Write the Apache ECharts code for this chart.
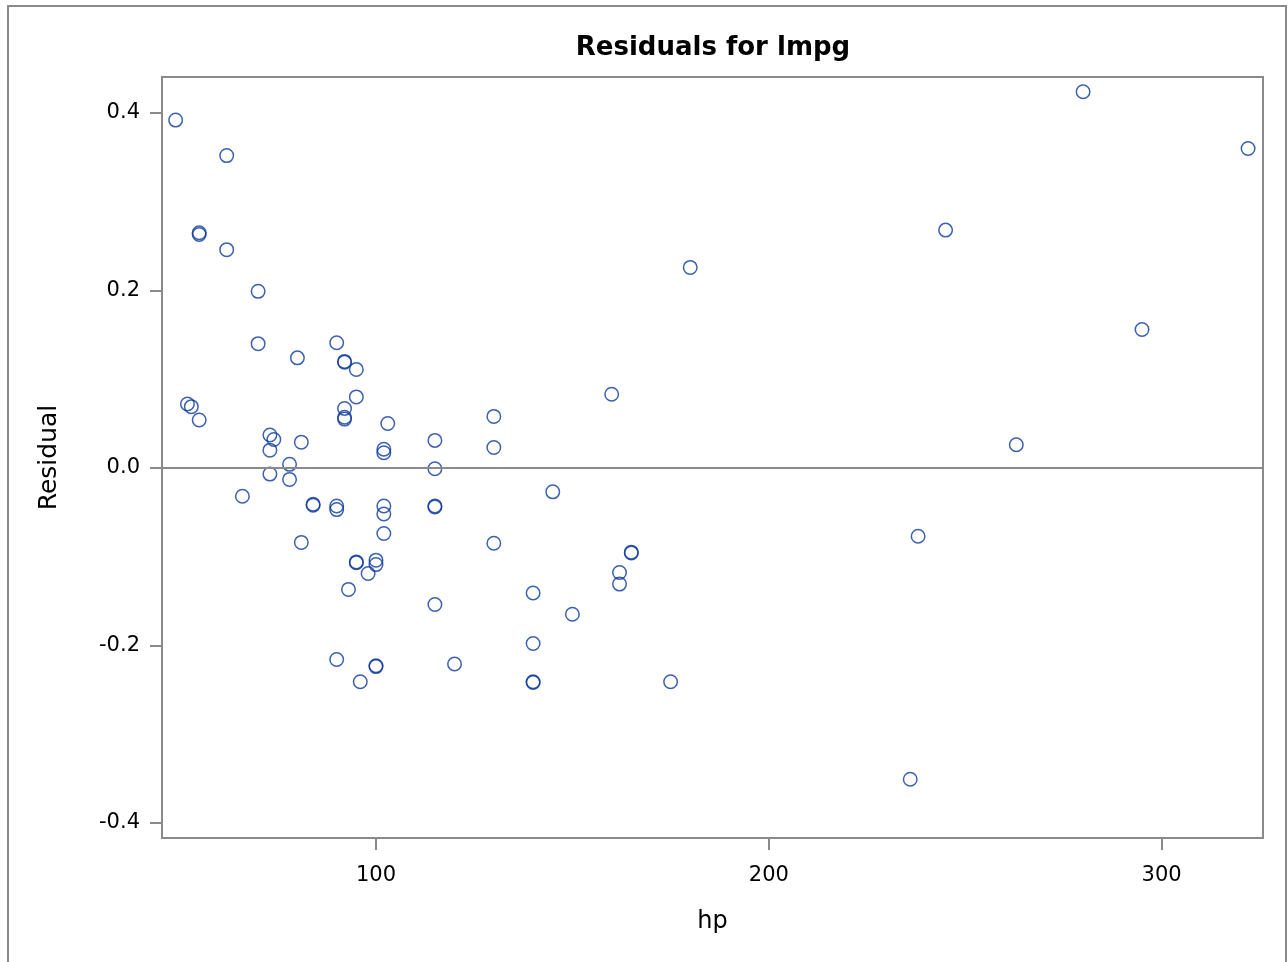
<!DOCTYPE html>
<html>
<head>
<meta charset="utf-8">
<script src="https://cdn.jsdelivr.net/npm/echarts@6/dist/echarts.min.js"></script>
<style>
html,body{margin:0;padding:0;background:#fff;}
#chart{width:1288px;height:962px;}
</style>
</head>
<body>
<div id="chart"></div>
<script>
const titleText = 'Residuals for lmpg';
const xName = 'hp';
const yName = 'Residual';
const xTicks = [100, 200, 300];
const yTicks = [-0.4, -0.2, 0, 0.2, 0.4];
const hp = [49, 62, 55, 55, 62, 70, 70, 90, 80, 92, 92, 95, 95, 92, 92, 92, 103, 52, 53, 55,
  73, 74, 73, 81, 102, 102, 78, 73, 78, 66, 84, 84, 90, 90, 102, 102, 102, 81, 95, 95,
  100, 100, 98, 93, 90, 100, 100, 96, 160, 130, 115, 130, 115, 145, 115, 115, 130, 165, 165, 162,
  162, 140, 150, 115, 140, 120, 140, 140, 175, 180, 245, 238, 236, 263, 280, 295, 322];
const residual = [0.392, 0.352, 0.265, 0.263, 0.246, 0.199, 0.140, 0.141, 0.124, 0.120, 0.119, 0.111, 0.080, 0.067, 0.057, 0.055, 0.050, 0.072, 0.069, 0.054,
  0.037, 0.032, 0.020, 0.029, 0.021, 0.017, 0.004, -0.007, -0.013, -0.032, -0.041, -0.042, -0.043, -0.047, -0.043, -0.052, -0.074, -0.084, -0.106, -0.107,
  -0.104, -0.109, -0.119, -0.137, -0.216, -0.223, -0.224, -0.241, 0.083, 0.058, 0.031, 0.023, -0.001, -0.027, -0.043, -0.044, -0.085, -0.095, -0.096, -0.118,
  -0.131, -0.141, -0.165, -0.154, -0.198, -0.221, -0.241, -0.242, -0.241, 0.226, 0.268, -0.077, -0.351, 0.026, 0.424, 0.156, 0.360];
const refValue = 0;

const pts = hp.map((h, i) => [h, residual[i]]);
const FONT = 'DejaVu Sans';
const GREY = '#8a8a8a';

const chart = echarts.init(document.getElementById('chart'), null, {renderer: 'canvas'});
chart.setOption({
  animation: false,
  backgroundColor: '#fff',
  title: {
    text: titleText,
    left: 708, top: 30, textAlign: 'center',
    textStyle: {fontFamily: FONT, fontWeight: 'bold', fontSize: 26, color: '#000'}
  },
  graphic: [{
    type: 'rect', shape: {x: 8, y: 6, width: 1278, height: 1000},
    style: {fill: 'none', stroke: GREY, lineWidth: 2}, silent: true, z: -1
  }],
  grid: {
    left: 162, right: 25, top: 77, bottom: 124,
    show: true, borderColor: GREY, borderWidth: 2, backgroundColor: 'transparent'
  },
  xAxis: {
    type: 'value', min: 45.53, max: 325.8,
    name: xName, nameLocation: 'middle', nameGap: 72,
    nameTextStyle: {fontFamily: FONT, fontSize: 24, color: '#000'},
    axisLine: {show: true, onZero: false, lineStyle: {color: GREY, width: 2}},
    axisTick: {show: true, inside: false, customValues: xTicks, length: 12, lineStyle: {color: GREY, width: 2}},
    axisLabel: {customValues: xTicks, fontFamily: FONT, fontSize: 21, color: '#000', margin: 27},
    splitLine: {show: false}
  },
  yAxis: {
    type: 'value', min: -0.4172, max: 0.4406,
    name: yName, nameLocation: 'middle', nameGap: 100, nameRotate: 90,
    nameTextStyle: {fontFamily: FONT, fontSize: 25, color: '#000'},
    axisLine: {show: true, onZero: false, lineStyle: {color: GREY, width: 2}},
    axisTick: {show: true, inside: false, customValues: yTicks, length: 12, lineStyle: {color: GREY, width: 2}},
    axisLabel: {customValues: yTicks, fontFamily: FONT, fontSize: 21, color: '#000', margin: 22,
      formatter: v => v.toFixed(1)},
    splitLine: {show: false}
  },
  series: [{
    type: 'scatter',
    data: pts,
    symbol: 'circle',
    symbolSize: 13.5,
    itemStyle: {color: 'rgba(255,255,255,0)', borderColor: '#0b3a9e', borderWidth: 1.5},
    markLine: {
      silent: true, symbol: 'none', label: {show: false},
      lineStyle: {color: GREY, width: 2, type: 'solid'},
      data: [{yAxis: refValue}]
    },
    z: 3
  }]
});
</script>
</body>
</html>
